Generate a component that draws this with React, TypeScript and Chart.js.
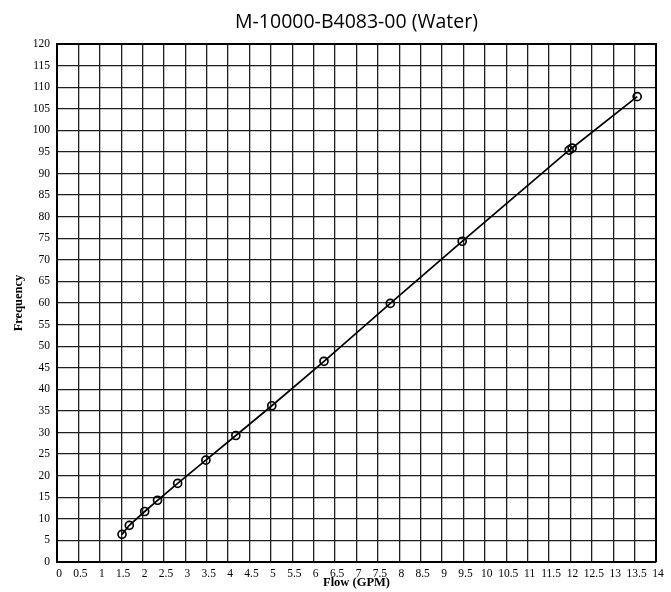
import React, { useEffect, useRef } from "react";
import { Chart, registerables } from "chart.js";

Chart.register(...registerables);

// Data
const flowGPM = [1.52, 1.69, 2.05, 2.35, 2.82, 3.48, 4.18, 5.02, 6.24, 7.79, 9.47, 11.97, 12.04, 13.56];
const frequency = [6.4, 8.5, 11.7, 14.3, 18.2, 23.6, 29.3, 36.2, 46.5, 59.9, 74.3, 95.4, 95.9, 107.8];

const chartTitle = "M-10000-B4083-00 (Water)";
const xAxisTitle = "Flow (GPM)";
const yAxisTitle = "Frequency";
const xRange = [0, 14];
const xStep = 0.5;
const yRange = [0, 120];
const yStep = 5;

const W = 671;
const H = 592;

export default function App() {
  const ref = useRef<HTMLCanvasElement | null>(null);

  useEffect(() => {
    const canvas = ref.current;
    if (!canvas) return;
    const points = flowGPM.map((x, i) => ({ x, y: frequency[i] }));
    const tickFont = { family: "'Liberation Serif', 'Times New Roman', serif", size: 11.5 };
    const gridColor = "#1e1e1e";
    const chart = new Chart(canvas, {
      type: "scatter",
      data: {
        datasets: [
          {
            data: points,
            showLine: true,
            borderColor: "#000",
            borderWidth: 1.7,
            pointRadius: 4,
            pointBorderWidth: 1.7,
            pointBorderColor: "#000",
            pointBackgroundColor: "rgba(255,255,255,0)",
            tension: 0,
          },
        ],
      },
      options: {
        responsive: false,
        animation: false,
        devicePixelRatio: 1,
        layout: { padding: { left: 0, right: 15, top: 44, bottom: 0 } },
        plugins: {
          legend: { display: false },
          tooltip: { enabled: false },
          title: { display: false },
        },
        scales: {
          x: {
            type: "linear",
            min: xRange[0],
            max: xRange[1],
            border: { display: true, color: "#000", width: 2 },
            grid: { color: gridColor, lineWidth: 1.3, drawTicks: false },
            ticks: {
              stepSize: xStep,
              autoSkip: false,
              maxRotation: 0,
              minRotation: 0,
              padding: 5,
              labelOffset: 2,
              color: "#000",
              font: tickFont,
              callback: (v: any) => String(v),
            },
            title: {
              display: true,
              text: xAxisTitle,
              color: "#000",
              font: { family: "'Liberation Serif', serif", size: 12.5, weight: "bold", lineHeight: 1.2 },
              padding: { top: 0, bottom: 2 },
            },
            afterFit: (scale: any) => {
              scale.height = 30;
            },
          },
          y: {
            type: "linear",
            min: yRange[0],
            max: yRange[1],
            border: { display: true, color: "#000", width: 2 },
            grid: { color: gridColor, lineWidth: 1.3, drawTicks: false },
            ticks: {
              stepSize: yStep,
              autoSkip: false,
              padding: 7,
              color: "#000",
              font: tickFont,
            },
            title: {
              display: true,
              text: yAxisTitle,
              color: "#000",
              font: { family: "'Liberation Serif', serif", size: 12.5, weight: "bold", lineHeight: 1.2 },
              padding: { top: 11, bottom: 0 },
            },
            afterFit: (scale: any) => {
              scale.width = 57;
            },
          },
        },
      },
      plugins: [
        {
          id: "frameAndTitle",
          afterDatasetsDraw(c: any) {
            const { ctx, chartArea } = c;
            ctx.save();
            ctx.strokeStyle = "#000";
            ctx.lineWidth = 2;
            ctx.beginPath();
            ctx.moveTo(chartArea.left, chartArea.top);
            ctx.lineTo(chartArea.right, chartArea.top);
            ctx.lineTo(chartArea.right, chartArea.bottom);
            ctx.stroke();
            ctx.fillStyle = "#000";
            ctx.font = "normal 19.5px 'Open Sans', 'Noto Sans', sans-serif";
            ctx.textAlign = "center";
            ctx.textBaseline = "middle";
            ctx.fillText(chartTitle, (chartArea.left + chartArea.right) / 2, 22);
            ctx.restore();
          },
        },
      ],
    } as any);
    return () => chart.destroy();
  }, []);

  return (
    <div style={{ position: "absolute", left: 0, top: 0, width: W, height: H, background: "#fff" }}>
      <canvas ref={ref} width={W} height={H} style={{ width: W, height: H, display: "block" }} />
    </div>
  );
}
